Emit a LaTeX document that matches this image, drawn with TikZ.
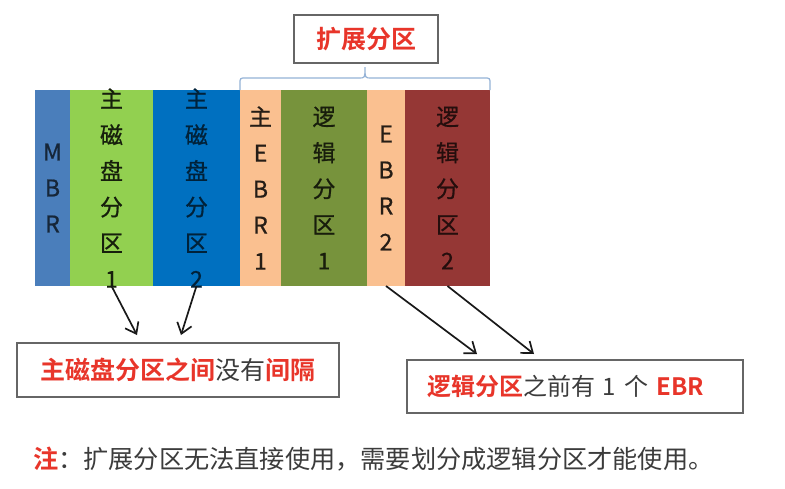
\documentclass[tikz,border=0pt]{standalone}
\usepackage{fontspec}
\setmainfont{Noto Sans CJK SC}[BoldFont={Noto Sans CJK SC Bold}]
\newfontfamily\colcjk{Noto Sans CJK SC}[FakeBold=0.8]
\usetikzlibrary{arrows.meta}
\definecolor{mbrblue}{HTML}{4A7EBB}
\definecolor{prigreen}{HTML}{92D050}
\definecolor{priblue}{HTML}{0070C0}
\definecolor{ebrpeach}{HTML}{FAC090}
\definecolor{logolive}{HTML}{77933C}
\definecolor{logbrown}{HTML}{953735}
\definecolor{bracegray}{HTML}{95B3D7}
\definecolor{tagred}{HTML}{E8352A}
\definecolor{notegray}{HTML}{3C3C3C}
\def\colfont{\colcjk\fontsize{23}{36}\selectfont}
\def\tagfont{\fontsize{25}{30}\selectfont}
\tikzset{
  col/.style={minimum height=196pt,inner sep=0pt,outer sep=0pt,align=center,font=\colfont,anchor=west},
  tagbox/.style={draw=black!60,line width=1.5pt,inner sep=0pt,font=\tagfont},
  arr/.style={draw=black!90,line width=1.7pt,-{Straight Barb[length=10pt,width=15pt]}},
}

\begin{document}
\begin{tikzpicture}[x=1pt,y=-1pt]
    \useasboundingbox[fill=white] (0,0) rectangle (785,488);
    \node[col,fill=mbrblue,minimum width=35pt,text=mbrblue!30!black] (mbr) at (35,188) {M\\B\\R};
    \node[col,fill=prigreen,minimum width=83pt,inner ysep=-6pt,text=prigreen!15!black] (p1) at (mbr.east) {主\\磁\\盘\\分\\区\\1};
    \node[col,fill=priblue,minimum width=87pt,inner ysep=-6pt,text=priblue!30!black] (p2) at (p1.east) {主\\磁\\盘\\分\\区\\2};
    \node[col,fill=ebrpeach,minimum width=41pt,text=ebrpeach!15!black] (ebr1) at (p2.east) {主\\E\\B\\R\\1};
    \node[col,fill=logolive,minimum width=86pt,text=logolive!20!black] (log1) at (ebr1.east) {逻\\辑\\分\\区\\1};
    \node[col,fill=ebrpeach,minimum width=38pt,text=ebrpeach!15!black] (ebr2) at (log1.east) {E\\B\\R\\2};
    \node[col,fill=logbrown,minimum width=85pt,text=logbrown!25!black] (log2) at (ebr2.east) {逻\\辑\\分\\区\\2};
    \draw[bracegray,line width=1.2pt] (240,90) -- (240,84) .. controls (240,78) .. (246,78) -- (359,78) .. controls (365,78) .. (365,67) .. controls (365,78) .. (371,78) -- (484,78) .. controls (490,78) .. (490,84) -- (490,90);
    \node[tagbox,minimum width=144pt,minimum height=48pt,text=tagred] (ext) at (366,39) {\bfseries 扩展分区};
    \node[tagbox,minimum width=322pt,minimum height=54pt] (gap) at (178,370) {\bfseries\color{tagred}主磁盘分区之间\mdseries\color{notegray}没有\bfseries\color{tagred}间隔};
    \node[tagbox,text width=296pt,inner xsep=20pt,minimum height=53pt,align=left,text=notegray,font=\fontsize{24}{30}\selectfont] (ebr) at (575,386.5) {{\bfseries\color{tagred}逻辑分区}之前有 1 个 {\bfseries\color{tagred}EBR}};
    \coordinate (a1) at (137,335);
    \coordinate (a2) at (181,335);
    \coordinate (a3) at (477,354);
    \coordinate (a4) at (534,354);
    \draw[arr] (p1.south) -- (a1);
    \draw[arr] (p2.south) -- (a2);
    \draw[arr] (ebr2.south) -- (a3);
    \draw[arr] (log2.south) -- (a4);
    \node[anchor=west,inner sep=0pt,font=\fontsize{25.2}{28}\selectfont,text=notegray] (note) at (33,459) {{\bfseries\color{tagred}注}：扩展分区无法直接使用，需要划分成逻辑分区才能使用。};
\end{tikzpicture}
\end{document}
